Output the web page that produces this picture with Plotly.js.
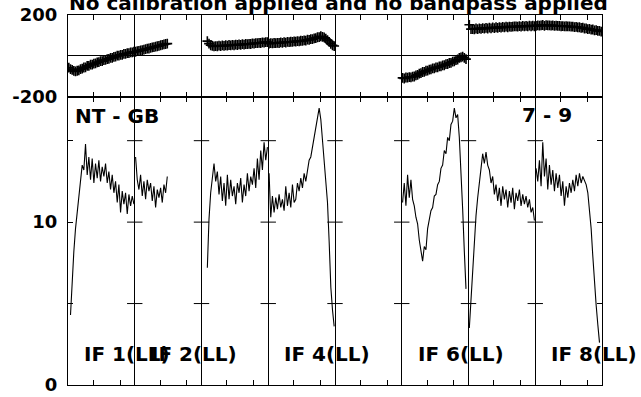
<!DOCTYPE html>
<html>
<head>
<meta charset="utf-8">
<script src="https://cdn.plot.ly/plotly-3.0.1.min.js"></script>
<style>html,body{margin:0;padding:0;background:#fff;}#chart{width:641px;height:397px;}</style>
</head>
<body>
<div id="chart"></div>
<script>
// ---- data ----
const ifLabels = ["IF 1(LL)", "IF 2(LL)", "IF 3(LL)", "IF 4(LL)", "IF 5(LL)", "IF 6(LL)", "IF 7(LL)", "IF 8(LL)"];
const shownLabels = ["IF 1(LL)", "IF 2(LL)", "IF 4(LL)", "IF 6(LL)", "IF 8(LL)"];
const baselineLabel = "NT - GB";
const timeLabel = "7 - 9";
const titleText = "No calibration applied and no bandpass applied";
const ampTickVals = [0, 5, 10, 15];
const ampTickText = ["0", "", "10", ""];
const phaseTickVals = [-200, 200];
const phaseTickText = ["-200", "200"];
const channelTicks = [0.38, 0.78];   // channel tick marks inside each IF panel (fraction of panel)

// amplitude per IF (40 channels each, null = no data)
const ampIF1 = [null,4.3,6.8,8.2,9.6,10.6,11.3,12.6,13.5,13.2,14.8,12.9,14.0,12.6,13.9,12.4,13.6,12.7,13.8,12.5,
                13.4,12.8,13.6,12.4,13.1,12.0,12.9,11.8,12.5,11.2,12.3,10.6,11.9,11.1,11.8,10.5,11.7,11.0,11.6,11.1];
const ampIF2 = [14.0,12.6,12.0,12.9,11.6,12.5,11.4,12.6,11.9,12.4,11.3,12.2,10.9,12.0,11.5,12.1,11.2,12.3,11.8,12.8,
                null,null,null,null,null,null,null,null,null,null,null,null,null,null,null,null,null,null,null,null];
const ampIF3 = [null,null,null,7.2,10.2,11.8,12.9,13.6,12.5,13.1,11.7,12.8,11.3,12.4,11.0,12.9,11.4,12.6,11.6,12.2,
                11.1,12.4,11.8,12.7,11.2,12.3,11.6,13.0,11.9,12.8,12.3,13.3,12.1,13.9,12.6,14.4,13.2,14.9,13.8,14.6];
const ampIF4 = [13.0,10.3,11.6,10.6,11.5,10.8,11.7,10.9,11.4,10.7,12.2,11.0,11.8,10.9,12.3,11.2,11.4,12.4,11.9,12.7,
                12.1,13.0,12.5,13.3,13.8,14.0,14.6,15.2,15.8,16.5,17.0,16.3,15.0,13.9,12.8,11.2,8.8,6.0,4.6,3.6];
const ampIF5 = [];
const ampIF6 = [11.2,12.4,11.0,12.9,11.5,12.6,11.4,11.0,10.3,9.9,8.9,8.1,7.6,8.5,8.3,9.6,10.1,10.7,10.9,11.6,
                11.7,12.3,12.5,13.3,13.5,14.4,14.2,15.2,15.0,16.0,16.2,17.0,16.4,16.6,15.2,13.4,10.8,8.2,5.9,null];
const ampIF7 = [3.5,5.2,7.4,9.0,10.4,11.5,12.6,13.3,14.2,13.6,14.3,13.5,13.2,12.4,12.8,11.7,12.3,11.3,12.1,11.0,
                12.2,11.4,12.0,10.9,11.9,11.2,12.1,10.8,11.8,11.3,12.0,11.0,11.7,11.1,11.6,10.9,11.4,10.6,10.9,10.1];
const ampIF8 = [13.3,12.5,13.8,12.2,14.9,12.8,13.9,12.0,13.5,12.3,13.2,11.9,13.0,12.1,12.9,11.6,12.5,11.0,12.2,11.5,
                12.4,11.8,12.6,11.9,12.9,12.2,13.0,12.4,12.8,12.6,12.3,11.8,10.9,9.6,7.9,6.2,4.9,3.7,2.6,null];

// phase per IF (degrees)
const phaseIF1 = [-58,-65,-69,-74,-76,-73,-71,-65,-63,-57,-56,-49,-49,-43,-43,-38,-37,-32,-31,-26,
                  -26,-21,-20,-16,-15,-10,-10,-5,-4,1,1,5,5,10,10,13,13,17,17,20];
const phaseIF2 = [20,23,24,27,28,30,33,35,36,39,41,43,45,47,49,52,54,56,58,60,
                  null,null,null,null,null,null,null,null,null,null,null,null,null,null,null,null,null,null,null,null];
const phaseIF3 = [null,null,null,72,60,52,49,46,48,47,50,48,51,49,52,50,53,51,54,52,
                  55,53,56,54,57,55,58,57,59,58,61,60,62,62,64,63,66,65,67,67];
const phaseIF4 = [60,62,61,63,62,64,63,66,64,67,65,68,67,69,68,71,70,72,71,74,
                  73,76,75,79,78,82,82,86,87,91,92,96,93,90,84,77,68,59,52,48];
const phaseIF5 = [];
const phaseIF6 = [-108,-111,-106,-107,-104,-105,-102,-101,-96,-93,-87,-85,-79,-78,-73,-72,-67,-66,-61,-61,
                  -56,-56,-52,-52,-47,-46,-41,-40,-35,-34,-28,-27,-21,-18,-10,-7,-4,-10,-16,null];
const phaseIF7 = [152,131,131,130,134,131,135,132,136,133,137,134,138,135,139,136,140,137,141,138,
                  142,139,143,140,143,142,143,144,144,143,146,143,147,144,147,144,148,145,148,145];
const phaseIF8 = [147,149,148,149,151,147,150,149,149,148,149,147,148,147,147,145,146,144,145,144,
                  144,143,143,141,142,139,140,137,138,134,135,131,132,128,129,125,126,122,122,119];

const ampData = [ampIF1, ampIF2, ampIF3, ampIF4, ampIF5, ampIF6, ampIF7, ampIF8];
const phaseData = [phaseIF1, phaseIF2, phaseIF3, phaseIF4, phaseIF5, phaseIF6, phaseIF7, phaseIF8];
const NCH = 40;

// ---- build traces ----
const traces = [];
function chanX(p, arr) { return arr.map((_, i) => p + (i + 0.5) / NCH); }
ampData.forEach((arr, p) => {
  if (!arr.length) return;
  traces.push({x: chanX(p, arr), y: arr, xaxis: 'x', yaxis: 'y', mode: 'lines',
    line: {color: '#000', width: 1.1}, connectgaps: false, showlegend: false, hoverinfo: 'skip'});
});
phaseData.forEach((arr, p) => {
  if (!arr.length) return;
  traces.push({x: chanX(p, arr), y: arr, xaxis: 'x2', yaxis: 'y2', mode: 'markers',
    marker: {symbol: 'cross-thin', size: 7, color: '#000', line: {color: '#000', width: 1.6}},
    showlegend: false, hoverinfo: 'skip'});
});
// tick crosses on the IF separators of the amplitude panel
const sepX = [], sepY = [];
for (let p = 1; p < ifLabels.length; p++) {
  ampTickVals.slice(1).forEach(v => { sepX.push(p); sepY.push(v); });
}
traces.push({x: sepX, y: sepY, xaxis: 'x', yaxis: 'y', mode: 'markers',
  marker: {symbol: 'line-ew', size: 11, color: '#000', line: {color: '#000', width: 1}},
  showlegend: false, hoverinfo: 'skip'});

const tickVals = [];
for (let p = 0; p < ifLabels.length; p++) channelTicks.forEach(f => tickVals.push(p + f));
const sepVals = [];
for (let p = 1; p < ifLabels.length; p++) sepVals.push(p);

const FONT = 'DejaVu Sans, Liberation Sans, Arial, sans-serif';
const xCommon = {
  range: [0, ifLabels.length], showline: true, linecolor: '#000', linewidth: 1, mirror: 'ticks',
  tickmode: 'array', tickvals: tickVals, ticks: 'inside', ticklen: 5, tickcolor: '#000', tickwidth: 1,
  showticklabels: false, showgrid: false, zeroline: false,
  minor: {tickmode: 'array', tickvals: sepVals, showgrid: true, gridcolor: '#000', gridwidth: 1, ticks: ''}
};
const split = 0.7792;
const layout = {
  width: 641, height: 397,
  margin: {l: 68, r: 39, t: 15, b: 12, pad: 0},
  paper_bgcolor: '#fff', plot_bgcolor: '#fff',
  showlegend: false,
  font: {family: FONT, color: '#000'},
  xaxis: Object.assign({}, xCommon, {anchor: 'y', domain: [0, 1]}),
  xaxis2: Object.assign({}, xCommon, {anchor: 'y2', domain: [0, 1], matches: 'x'}),
  yaxis: {domain: [0, split], range: [0, 17.7], showline: true, linecolor: '#000', linewidth: 1, mirror: 'ticks',
    tickmode: 'array', tickvals: ampTickVals, ticktext: ampTickText, ticks: 'inside', ticklen: 5,
    tickcolor: '#000', showgrid: false, zeroline: false, ticklabelstandoff: 6,
    tickfont: {family: FONT, size: 18, weight: 700, color: '#000'}},
  yaxis2: {domain: [split, 1], range: [-200, 200], showline: true, linecolor: '#000', linewidth: 1, mirror: true,
    tickmode: 'array', tickvals: phaseTickVals, ticktext: phaseTickText, ticks: '',
    showgrid: false, zeroline: true, zerolinecolor: '#000', zerolinewidth: 1, ticklabelstandoff: 6,
    tickfont: {family: FONT, size: 18, weight: 700, color: '#000'}},
  annotations: []
};
const labFont = {family: FONT, size: 20, weight: 700, color: '#000'};
layout.annotations.push({text: titleText, xref: 'paper', yref: 'paper', x: 0.5, y: 1, xanchor: 'center',
  yanchor: 'bottom', xshift: 3, yshift: -2, showarrow: false, font: labFont});
layout.annotations.push({text: baselineLabel, xref: 'x', yref: 'y', x: 0, y: 16.5, xanchor: 'left',
  yanchor: 'middle', xshift: 5, showarrow: false, font: labFont});
layout.annotations.push({text: timeLabel, xref: 'x', yref: 'y', x: 7, y: 16.6, xanchor: 'right',
  yanchor: 'middle', xshift: 39, showarrow: false, font: labFont});
shownLabels.forEach(t => {
  const p = ifLabels.indexOf(t);
  layout.annotations.push({text: t, xref: 'x', yref: 'y', x: p, y: 1.9, xanchor: 'left',
    yanchor: 'middle', xshift: 14, showarrow: false, font: labFont});
});

Plotly.newPlot('chart', traces, layout, {staticPlot: true, displayModeBar: false});
</script>
</body>
</html>
